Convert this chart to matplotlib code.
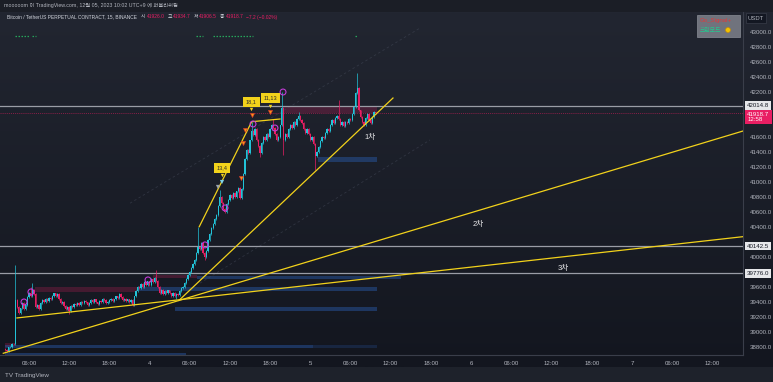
import matplotlib
matplotlib.use("Agg")
import matplotlib.pyplot as plt
import numpy as np
from matplotlib import font_manager
from matplotlib.patches import Ellipse
from matplotlib.transforms import blended_transform_factory

W, H = 773, 382

# 폰트: 좁은 글꼴이 있으면 사용
_names = {f.name for f in font_manager.fontManager.ttflist}
NARROW = "Liberation Sans Narrow" if "Liberation Sans Narrow" in _names else "Liberation Sans"
FONT = [NARROW, "Noto Sans CJK KR", "DejaVu Sans"]
plt.rcParams["font.family"] = FONT

# ---- 데이터 (시간: 2023-12-04 00:00 기준 시간, 15분봉) ----
START_H = -21.5
FIRST_OPEN = 38770.0
closes = [
    38760, 38745,                      # 12/3 02:30
    38790, 38800, 38840, 38830,        # 03
    39420, 39330, 39250, 39310,        # 04
    39380, 39300, 39360, 39460,        # 05
    39520, 39480, 39560, 39500,        # 06
    39330, 39360, 39300, 39380,        # 07
    39420, 39400, 39440, 39410,        # 08
    39450, 39430, 39480, 39510,        # 09
    39470, 39500, 39440, 39380,        # 10
    39400, 39340, 39300, 39330,        # 11
    39270, 39340, 39330, 39370,        # 12
    39350, 39380, 39360, 39400,        # 13
    39380, 39410, 39390, 39360,        # 14
    39380, 39420, 39400, 39430,        # 15
    39390, 39370, 39410, 39400,        # 16
    39440, 39420, 39380, 39400,        # 17
    39420, 39440, 39410, 39430,        # 18
    39470, 39450, 39500, 39460,        # 19
    39420, 39440, 39410, 39430,        # 20
    39400, 39420, 39360, 39470,        # 21
    39540, 39600, 39580, 39640,        # 22
    39600, 39660, 39620, 39670,        # 23
    39620, 39700, 39660, 39720,        # 12/4 00
    39680, 39600, 39520, 39560,        # 01
    39500, 39540, 39520, 39550,        # 02
    39510, 39480, 39520, 39470,        # 03
    39500, 39490, 39540, 39580,        # 04
    39600, 39650, 39700, 39760,        # 05
    39800, 39850, 39900, 39960,        # 06
    40050, 40130, 40100, 40180,        # 07
    40050, 40000, 40080, 40220,        # 08
    40300, 40380, 40440, 40500,        # 09
    40560, 40680, 40800, 40720,        # 10
    40640, 40600, 40700, 40760,        # 11
    40820, 40780, 40850, 40800,        # 12
    40870, 40920, 40780, 40900,        # 13
    41100, 41300, 41420, 41380,        # 14
    41550, 41680, 41620, 41700,        # 15
    41560, 41480, 41380, 41520,        # 16
    41600, 41550, 41640, 41600,        # 17
    41700, 41760, 41720, 41640,        # 18
    41560, 41600, 41750, 41980,        # 19
    41560, 41640, 41600, 41700,        # 20
    41760, 41720, 41800, 41760,        # 21
    41840, 41880, 41820, 41780,        # 22
    41700, 41650, 41700, 41640,        # 23
    41560, 41600, 41500, 41340,        # 12/5 00
    41400, 41460, 41540, 41600,        # 01
    41580, 41650, 41700, 41680,        # 02
    41760, 41820, 41780, 41850,        # 03
    41880, 41840, 41760, 41800,        # 04
    41740, 41800, 41780, 41840,        # 05
    41820, 41900, 42000, 42180,        # 06
    42250, 41950, 41860, 41800,        # 07
    41760, 41850, 41900, 41820,        # 08
    41780, 41860, 41926.0, 41918.7,    # 09
]
# 눈에 띄는 꼬리 (시간: 가격)
high_wicks = {-20.0: 39890, -17.75: 39600, -17.5: 39650, 1.0: 39820, 7.25: 40390,
              10.5: 40890, 15.25: 41800, 18.5: 41830, 19.75: 42200, 22.25: 41930,
              28.25: 42090, 31.0: 42450, 33.75: 41934.7}
low_wicks = {-12.0: 39240, -2.5: 39340, 4.0: 39430, 8.25: 39960, 16.5: 41330,
             20.0: 41350, 24.75: 41160, 33.75: 41906.5}

hline_prices = [42014.8, 40142.5, 39776.0]
last_price = 41918.7

# (시작, 끝, 하단, 상단)
supply_zones = [(-17.1, -1.9, 39530, 39597), (0.5, 7.1, 39716, 39756),
                (19.9, 34.0, 41917, 41997), (-21.6, -20.2, 38800, 38850)]
demand_zones = [(7.1, 37.5, 39703, 39743), (-1.5, 34.0, 39543, 39597),
                (3.8, 34.0, 39277, 39330), (-21.6, 24.4, 38780, 38824),
                (-21.6, 5.4, 38689, 38717), (25.1, 33.9, 41260, 41327)]
dim_zones = [(24.4, 34.0, 38780, 38824)]

trend_1 = ([4.40, 36.34], [39417, 42116])
trend_2 = ([-21.82, 88.58], [38712, 41676])
trend_3 = ([-19.78, 88.58], [39183, 40267])
swing_h = [7.43, 15.25, 19.48]
swing_p = [40400, 41800, 41836]
guide_a = ([-2.91, 40.37], [40713, 43049])
guide_b = ([7.54, 41.87], [39647, 41557])
trend_labels = ["1차", "2차", "3차"]
trend_label_h = [32.9, 49.0, 61.7]
trend_label_p = [41595, 40435, 39849]

circle_h = [-18.73, -17.69, -0.22, 8.28, 11.27, 15.45, 18.73, 19.93]
circle_p = [39396, 39530, 39690, 40157, 40650, 41770, 41716, 42196]
fire_h = [13.66, 13.95, 14.25, 15.3, 17.99]
fire_p = [41050, 41517, 41690, 41890, 41930]
cool_h = [10.22, 10.82]
cool_p = [40930, 40996]
tag_text = ["13,4", "18,1", "11,13"]
tag_h = [10.82, 15.22, 18.06]
tag_p = [41183, 42063, 42116]
green_spans = [(-20.0, -18.0), (-17.5, -17.0), (7.0, 8.0), (9.5, 15.5), (30.7, 30.9)]

price_ticks = [43000, 42800, 42600, 42400, 42200, 41600, 41400, 41200, 41000,
               40800, 40600, 40400, 40000, 39600, 39400, 39200, 39000, 38800]
time_ticks = [-18, -12, -6, 0, 6, 12, 18, 24, 30, 36, 42, 48, 54, 60, 66, 72, 78, 84]
time_labels = ["06:00", "12:00", "18:00", "4", "06:00", "12:00", "18:00", "5",
               "06:00", "12:00", "18:00", "6", "06:00", "12:00", "18:00", "7",
               "06:00", "12:00"]

# ---- 색상 ----
BG_TOP = np.array([0x22, 0x26, 0x31]) / 255
BG_BOT = np.array([0x13, 0x16, 0x1f]) / 255
UP = "#22c3d8"
DOWN = "#e91e63"
TEXT = "#b2b5be"
YELLOW = "#f2d21b"

fig = plt.figure(figsize=(W / 100, H / 100), dpi=100)
fig.patch.set_facecolor("#1b1e26")
renderer = fig.canvas.get_renderer()


def fy(py):
    return 1 - py / H


# 배경 그라데이션
bg = fig.add_axes([0, fy(367), 1, fy(12) - fy(367)], zorder=-5)
grad = np.linspace(0, 1, 256)[:, None, None]
bg.imshow(BG_TOP * (1 - grad) + BG_BOT * grad, aspect="auto", extent=(0, 1, 0, 1))
bg.axis("off")

ax = fig.add_axes([0, fy(355), 743 / W, fy(12) - fy(355)])
ax.set_facecolor("none")
ax.set_xlim(-22.31, 88.58)
ax.set_ylim(38689, 43263)
for s in ax.spines.values():
    s.set_visible(False)
ax.spines["right"].set_visible(True)
ax.spines["right"].set_color("#3a3e4a")
ax.spines["bottom"].set_visible(True)
ax.spines["bottom"].set_color("#3a3e4a")

# 존
for x0, x1, lo, hi in supply_zones:
    ax.fill_between([x0, x1], lo, hi, color=(0.91, 0.12, 0.39, 0.22), lw=0, zorder=1)
for x0, x1, lo, hi in demand_zones:
    ax.fill_between([x0, x1], lo, hi, color=(0.17, 0.38, 0.72, 0.42), lw=0, zorder=1)
for x0, x1, lo, hi in dim_zones:
    ax.fill_between([x0, x1], lo, hi, color=(0.17, 0.38, 0.72, 0.22), lw=0, zorder=1)

for xs, ys in (guide_a, guide_b):
    ax.plot(xs, ys, color="#4a5060", lw=0.6, ls=(0, (3, 3)), alpha=0.45, zorder=1)

for p in hline_prices:
    ax.axhline(p, color="#9a9da6", lw=0.9, zorder=2)
ax.axhline(last_price, color=DOWN, lw=0.5, ls=(0, (1.5, 1.5)), alpha=0.7, zorder=2)

# 캔들
c = np.array(closes, dtype=float)
t = START_H + 0.25 * np.arange(len(c))
o = np.r_[FIRST_OPEN, c[:-1]]
hi = np.maximum(o, c) + 12
lo = np.minimum(o, c) - 12
for k, v in high_wicks.items():
    hi[int(round((k - START_H) * 4))] = v
for k, v in low_wicks.items():
    lo[int(round((k - START_H) * 4))] = v
col = np.where(c >= o, UP, DOWN)
ax.vlines(t, lo, hi, colors=col, lw=0.5, zorder=3)
body_lo = np.minimum(o, c)
body_h = np.maximum(np.abs(c - o), 8)
ax.bar(t, body_h, bottom=body_lo, width=0.19, color=col, lw=0, zorder=4)

# 추세선
for xs, ys in (trend_1, trend_2, trend_3):
    ax.plot(xs, ys, color=YELLOW, lw=0.9, zorder=5)
ax.plot(swing_h, swing_p, color=YELLOW, lw=0.9, zorder=5)
for s, h, p in zip(trend_labels, trend_label_h, trend_label_p):
    ax.text(h, p, s, color="#e8e8ea", fontsize=5.5, ha="center", va="center", zorder=6)

# 신호 마커
ax.scatter(circle_h, circle_p, s=18, facecolors="none", edgecolors="#c33bd6", lw=0.8, zorder=6)
ax.scatter(fire_h, fire_p, s=9, marker="v", color="#f7931a", edgecolors="#d9332a", lw=0.4, zorder=6)
ax.scatter(cool_h, cool_p, s=9, marker="v", color=["#9aa3ad", "#7fd4ea"], lw=0, zorder=6)
for s, h, p in zip(tag_text, tag_h, tag_p):
    ax.annotate(s, (h, p), fontsize=4.0, color="#2a2a2a", ha="center", va="center", zorder=7,
                bbox=dict(boxstyle="square,pad=0.5", fc=YELLOW, ec="none"))
    ax.scatter([h], [p - 100], s=6, marker="v", color=YELLOW, lw=0, zorder=7)

trans_top = blended_transform_factory(ax.transData, ax.transAxes)
for x0, x1 in green_spans:
    ax.hlines(0.93, x0, x1, transform=trans_top, colors="#26a65b", lw=0.9,
              linestyles=(0, (1.2, 1.2)), zorder=6)

# 가격축
ax.yaxis.tick_right()
ax.set_yticks(price_ticks)
ax.set_yticklabels([f"{p:.1f}" for p in price_ticks])
ax.tick_params(axis="y", length=0, pad=5, labelsize=4.4, labelcolor=TEXT)
ax.set_xticks(time_ticks)
ax.set_xticklabels(time_labels)
ax.tick_params(axis="x", length=0, pad=4, labelsize=4.4, labelcolor=TEXT)

trans_r = blended_transform_factory(ax.transAxes, ax.transData)
for p in hline_prices:
    ax.annotate(f"{p:.1f}", (1.0, p), xycoords=trans_r, xytext=(3, 0), textcoords="offset points",
                fontsize=4.4, color="#131722", va="center", ha="left", annotation_clip=False,
                bbox=dict(boxstyle="square,pad=0.3", fc="#e6e7ea", ec="none"))
ax.annotate(f"{last_price:.1f}\n12:58", (1.0, last_price), xycoords=trans_r, xytext=(3, -3),
            textcoords="offset points", fontsize=4.4, color="white", va="center", ha="left",
            linespacing=1.1, annotation_clip=False,
            bbox=dict(boxstyle="square,pad=0.35", fc=DOWN, ec="none"))
fig.text(756 / W, fy(18), "USDT", fontsize=4.2, color=TEXT, ha="center", va="center",
         bbox=dict(boxstyle="square,pad=0.4", fc="#131722", ec="#3a3e4a", lw=0.5))

# 우상단 범례 박스
fig.patches.append(plt.Rectangle((697 / W, fy(37)), 43 / W, 22 / H, transform=fig.transFigure,
                                 fc="#70737d", ec="#8a8d96", lw=0.5))
fig.text(700 / W, fy(20.5), "Go_Signal+", fontsize=4.4, color="#e03a3a", va="center")
fig.text(700 / W, fy(30), "크린모드", fontsize=4.2, color="#22c98f", va="center")
fig.patches.append(Ellipse((728 / W, fy(30)), 5 / W, 5 / H, transform=fig.transFigure,
                           fc="#f2c200", ec="#c98a00", lw=0.4))

# 헤더
fig.text(4 / W, fy(6), "mooooom 이 TradingView.com, 12월 05, 2023 10:02 UTC+9 에 퍼블리쉬됨",
         fontsize=3.8, color=TEXT, va="center")
head = [("Bitcoin / TetherUS PERPETUAL CONTRACT, 15, BINANCE", "#d1d4dc", 4),
        ("시", "#d1d4dc", 1), ("41926.0", DOWN, 3), ("고", "#d1d4dc", 1),
        ("41934.7", DOWN, 3), ("저", "#d1d4dc", 1), ("41906.5", DOWN, 3),
        ("종", "#d1d4dc", 1), ("41918.7", DOWN, 3), ("−7.2 (−0.02%)", DOWN, 0)]
x_px = 7
for s, cl, gap in head:
    tx = fig.text(x_px / W, fy(17), s, fontsize=3.5, color=cl, va="center")
    x_px = tx.get_window_extent(renderer).x1 + gap

# 하단 바
fig.patches.append(plt.Rectangle((0, 0), 1, fy(367), transform=fig.transFigure,
                                 fc="#1e222b", ec="none", zorder=-6))
fig.text(5 / W, fy(375), "TV TradingView", fontsize=4.5, color=TEXT, va="center")

fig.savefig("out.png", dpi=100, facecolor=fig.get_facecolor())
